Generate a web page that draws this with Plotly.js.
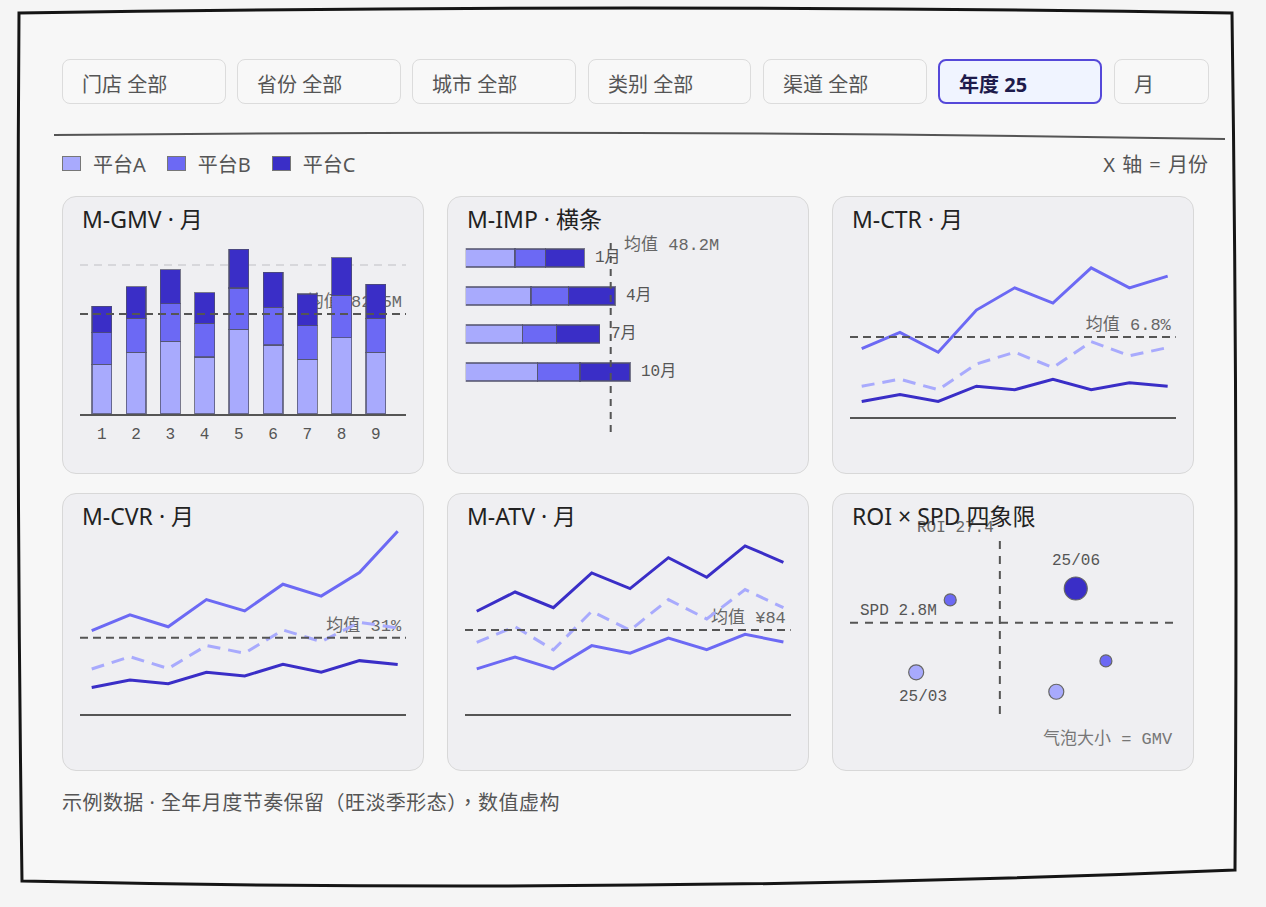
<!DOCTYPE html>
<html>
<head>
<meta charset="utf-8">
<script src="https://cdn.plot.ly/plotly-3.0.1.min.js"></script>
<style>
  body { margin: 0; width: 1266px; height: 907px; overflow: hidden; position: relative;
         background: #f5f5f5; font-family: "Noto Sans", "Noto Sans CJK SC", sans-serif; }
  #frame { position: absolute; left: 0; top: 0; z-index: 0; }
  .chip { position: absolute; top: 59px; height: 45px; box-sizing: border-box; border: 1.5px solid #dcdcdc;
          border-radius: 8px; background: #f8f8f8; color: #555; font-size: 20px;
          display: flex; align-items: center; padding-left: 19px; padding-top: 4px; z-index: 1; }
  .chip.on { border: 2px solid #5548d9; background: #f0f4ff; color: #1e1b4b; font-weight: 700; }
  .legend { position: absolute; top: 150px; left: 62px; height: 26px; display: flex; align-items: center;
            font-size: 20px; color: #555; z-index: 1; }
  .legend span.sw { display: inline-block; width: 17px; height: 13px; border: 1px solid #777; margin-right: 12px; }
  .legend span.lb { margin-right: 21px; }
  .axisnote { position: absolute; top: 150px; right: 58px; height: 26px; display: flex; align-items: center;
              font-size: 20px; word-spacing: 2px; color: #555; z-index: 1; }
  .panel { position: absolute; width: 362px; height: 278px; box-sizing: border-box; border: 1.5px solid #d8d8d8;
           border-radius: 14px; background: #efeff2; z-index: 1; }
  .ttl { position: absolute; font-size: 23px; line-height: 28px; color: #222; white-space: nowrap; z-index: 3; }
  .foot { position: absolute; left: 62px; top: 789px; font-size: 20px; line-height: 28px; letter-spacing: 0.45px;
          color: #555; z-index: 1; font-family: "Noto Sans", "Noto Sans CJK TC", sans-serif; }
  #chart { position: absolute; left: 0; top: 0; width: 1266px; height: 907px; z-index: 2; }
</style>
</head>
<body>

<svg id="frame" width="1266" height="907">
  <path d="M19,13 Q640,3 1232,13 Q1238,440 1235,870 Q640,895 22,881 Q16,450 19,13 Z"
        fill="#f7f7f7" stroke="#151515" stroke-width="3"/>
  <path d="M54,135 Q640,129 1225,139" fill="none" stroke="#555" stroke-width="2"/>
</svg>

<div class="chip" style="left:62px;width:164px">门店 全部</div>
<div class="chip" style="left:237px;width:164px">省份 全部</div>
<div class="chip" style="left:412px;width:164px">城市 全部</div>
<div class="chip" style="left:588px;width:163px">类别 全部</div>
<div class="chip" style="left:763px;width:164px">渠道 全部</div>
<div class="chip on" style="left:938px;width:164px">年度 25</div>
<div class="chip" style="left:1114px;width:95px">月</div>

<div class="legend" id="legend"></div>
<div class="axisnote">X 轴 = 月份</div>

<div class="panel" style="left:62px;top:196px"></div>
<div class="panel" style="left:447px;top:196px"></div>
<div class="panel" style="left:832px;top:196px"></div>
<div class="panel" style="left:62px;top:493px"></div>
<div class="panel" style="left:447px;top:493px"></div>
<div class="panel" style="left:832px;top:493px"></div>

<div class="ttl" style="left:82px;top:205px">M-GMV · 月</div>
<div class="ttl" style="left:467px;top:205px">M-IMP · 横条</div>
<div class="ttl" style="left:852px;top:205px">M-CTR · 月</div>
<div class="ttl" style="left:82px;top:502px">M-CVR · 月</div>
<div class="ttl" style="left:467px;top:502px">M-ATV · 月</div>
<div class="ttl" style="left:852px;top:502px">ROI × SPD 四象限</div>

<div class="foot">示例数据 · 全年月度节奏保留（旺淡季形态），数值虚构</div>

<div id="chart"></div>

<script>
// platforms
const platforms = ['平台A', '平台B', '平台C'];
const colA = '#a8aafd', colB = '#6c69f4', colC = '#3a2ec7';

// monthly GMV (stacked), M
const months = [1, 2, 3, 4, 5, 6, 7, 8, 9];
const gmvA = [41, 51, 60, 47, 70, 57, 45, 63, 51];
const gmvB = [26, 28, 31, 28, 34, 31, 28, 35, 28];
const gmvC = [22, 26, 28, 25, 32, 29, 26, 31, 28];
const gmvMean = 82.5;
const gmvRef = 123;

// impressions by quarter month, M
const impMonths = ['1月', '4月', '7月', '10月'];
const impA = [16.4, 21.7, 18.9, 23.9];
const impB = [10.2, 12.6, 11.4, 14.1];
const impC = [12.8, 15.3, 14.2, 16.6];
const impMean = 48.2;

// CTR %
const ctrA = [2.6, 3.2, 2.3, 4.5, 5.5, 4.2, 6.4, 5.2, 5.9];
const ctrB = [5.8, 7.2, 5.5, 9.1, 11.0, 9.7, 12.7, 11.0, 12.0];
const ctrC = [1.3, 1.9, 1.3, 2.6, 2.3, 3.2, 2.3, 2.9, 2.6];
const ctrMean = 6.8;

// CVR %
const cvrA = [18.3, 23.3, 18.5, 27.8, 24.7, 34.1, 29.4, 37.2, 34.9];
const cvrB = [33.8, 40.2, 35.4, 46.4, 41.8, 52.6, 47.8, 57.3, 74.0];
const cvrC = [10.8, 13.9, 12.4, 17.0, 15.5, 20.2, 17.0, 21.7, 20.1];
const cvrMean = 31;

// ATV ¥
const atvA = [71.7, 87.3, 64.1, 102.6, 83.7, 114.2, 95.0, 124.2, 106.2];
const atvB = [45.2, 57.1, 45.2, 68.4, 60.8, 76.0, 64.4, 79.7, 72.0];
const atvC = [102.6, 121.8, 106.2, 140.8, 125.2, 156.0, 136.5, 167.7, 151.4];
const atvMean = 84;

// ROI x SPD quadrant
const quadTags = ['', '25/06', '25/03', '', ''];
const quadRoi = [22.3, 35.2, 18.8, 38.3, 33.2];
const quadSpd = [3.20, 3.40, 1.93, 2.13, 1.59];
const quadGmv = [60, 115, 75, 60, 75];
const quadPlat = [1, 2, 0, 1, 0];
const roiMean = 27.4;
const spdMean = 2.8;

const colors = [colA, colB, colC];

// legend
const leg = document.getElementById('legend');
platforms.forEach(function(p, i) {
  leg.insertAdjacentHTML('beforeend',
    '<span class="sw" style="background:' + colors[i] + '"></span><span class="lb">' + p + '</span>');
});

const W = 1266, H = 907;
function dx(a, b) { return [a / W, b / W]; }
function dy(top, bottom) { return [1 - bottom / H, 1 - top / H]; }

const mono = 'Liberation Mono, DejaVu Sans Mono, Noto Sans CJK SC, monospace';
const edge = 'rgba(80,80,105,0.75)';
const dashRef = '8px,5px';

function bars(ys, col, name) {
  return {type: 'bar', x: months, y: ys, name: name, xaxis: 'x', yaxis: 'y', width: 0.58,
          marker: {color: col, line: {color: edge, width: 1.2}}, hoverinfo: 'skip'};
}
function hbars(xs, col, name) {
  return {type: 'bar', orientation: 'h', y: impMonths, x: xs, name: name, xaxis: 'x2', yaxis: 'y2', width: 0.47,
          marker: {color: col, line: {color: edge, width: 1.2}}, hoverinfo: 'skip'};
}
function line(ys, col, ax, dashed) {
  return {type: 'scatter', mode: 'lines', x: months, y: ys, xaxis: 'x' + ax, yaxis: 'y' + ax,
          line: {color: col, width: 3, dash: dashed ? '13px,8px' : 'solid'}, hoverinfo: 'skip'};
}

const data = [
  bars(gmvA, colA, platforms[0]), bars(gmvB, colB, platforms[1]), bars(gmvC, colC, platforms[2]),
  hbars(impA, colA, platforms[0]), hbars(impB, colB, platforms[1]), hbars(impC, colC, platforms[2]),
  line(ctrA, colA, 3, true), line(ctrC, colC, 3, false), line(ctrB, colB, 3, false),
  line(cvrA, colA, 4, true), line(cvrC, colC, 4, false), line(cvrB, colB, 4, false),
  line(atvA, colA, 5, true), line(atvB, colB, 5, false), line(atvC, colC, 5, false),
  {type: 'scatter', mode: 'markers', x: quadRoi, y: quadSpd, xaxis: 'x6', yaxis: 'y6',
   marker: {size: quadGmv, sizemode: 'diameter', sizeref: 5, opacity: 1,
            color: quadPlat.map(function(p) { return colors[p]; }),
            line: {color: '#666', width: 1.2}}, hoverinfo: 'skip'}
];

function meanLine(ax, val) {
  return {type: 'line', xref: 'x' + ax + ' domain', x0: 0, x1: 1, yref: 'y' + ax, y0: val, y1: val,
          line: {color: '#555', width: 2, dash: dashRef}, layer: 'above'};
}
// label drawn under the traces, its right end pulled in by a few px
function meanLabel(ax, val, txt, inset) {
  return {type: 'line', xref: 'x' + ax + ' domain', x0: 0, x1: 1 - inset, yref: 'y' + ax, y0: val, y1: val,
          line: {color: 'rgba(0,0,0,0)', width: 1}, layer: 'below',
          label: {text: txt, textposition: 'end', xanchor: 'right', yanchor: 'bottom', padding: 4,
                  font: {family: mono, size: 17, color: '#666'}}};
}

const shapes = [
  {type: 'line', xref: 'x domain', x0: 0, x1: 1, yref: 'y', y0: gmvRef, y1: gmvRef,
   line: {color: '#d0d0d4', width: 1.5, dash: '8px,6px'}, layer: 'below'},
  meanLabel('', gmvMean, '均值 ' + gmvMean + 'M', 0.012), meanLine('', gmvMean),
  {type: 'line', xref: 'x2', x0: impMean, x1: impMean, yref: 'y2 domain', y0: 0, y1: 1,
   line: {color: '#555', width: 2, dash: '7px,6px'}},
  meanLabel(3, ctrMean, '均值 ' + ctrMean + '%', 0.015), meanLine(3, ctrMean),
  meanLabel(4, cvrMean, '均值 ' + cvrMean + '%', 0.015), meanLine(4, cvrMean),
  meanLabel(5, atvMean, '均值 ¥' + atvMean, 0.015), meanLine(5, atvMean),
  {type: 'line', xref: 'x6', x0: roiMean, x1: roiMean, yref: 'y6 domain', y0: 0, y1: 1,
   line: {color: '#555', width: 2, dash: '8px,7px'}},
  {type: 'line', xref: 'x6 domain', x0: 0, x1: 1, yref: 'y6', y0: spdMean, y1: spdMean,
   line: {color: '#555', width: 2, dash: '8px,7px'}}
];

const txt = {family: mono, size: 16, color: '#555'};
const annotations = [];
impMonths.forEach(function(m, i) {
  annotations.push({xref: 'x2', yref: 'y2', x: impA[i] + impB[i] + impC[i], y: m, text: m,
                    showarrow: false, xanchor: 'left', xshift: 9, font: txt});
});
annotations.push({xref: 'x2', yref: 'y2 domain', x: impMean, y: 1, text: '均值 ' + impMean + 'M',
                  showarrow: false, xanchor: 'left', xshift: 11, yanchor: 'middle', yshift: -2,
                  font: {family: mono, size: 17, color: '#666'}});
quadTags.forEach(function(t, i) {
  if (!t) return;
  const above = quadSpd[i] > spdMean;
  annotations.push({xref: 'x6', yref: 'y6', x: quadRoi[i], y: quadSpd[i], text: t, showarrow: false,
                    yanchor: 'middle', yshift: above ? 27 : -25, xshift: above ? 0 : 7, font: txt});
});
annotations.push({xref: 'x6', yref: 'y6 domain', x: roiMean, y: 1, text: 'ROI ' + roiMean, showarrow: false,
                  xanchor: 'right', xshift: -4, yanchor: 'middle', yshift: 12, font: {family: mono, size: 16, color: '#666'}});
annotations.push({xref: 'x6 domain', yref: 'y6', x: 0, y: spdMean, text: 'SPD ' + spdMean + 'M', showarrow: false,
                  xanchor: 'left', xshift: 8, yanchor: 'middle', yshift: 12, font: txt});
annotations.push({xref: 'x6 domain', yref: 'y6 domain', x: 1, y: 0, text: '气泡大小 = GMV', showarrow: false,
                  xanchor: 'right', xshift: 0, yanchor: 'middle', yshift: -25, font: {family: mono, size: 17, color: '#777'}});

const baseX = {showline: true, linecolor: '#555', linewidth: 2, ticks: '', showgrid: false, zeroline: false,
               showticklabels: false, fixedrange: true};
const hidden = {visible: false, showline: false, fixedrange: true};

const layout = {
  width: W, height: H, margin: {l: 0, r: 0, t: 0, b: 0},
  paper_bgcolor: 'rgba(0,0,0,0)', plot_bgcolor: 'rgba(0,0,0,0)',
  showlegend: false, barmode: 'stack',
  font: {family: mono, size: 16, color: '#555'},
  xaxis: Object.assign({}, baseX, {anchor: 'y', domain: dx(80, 406), range: [0.36, 9.88], tickvals: months,
          ticktext: months.map(String), showticklabels: true, ticklabelstandoff: 4,
          tickfont: {family: mono, size: 16, color: '#555'}}),
  yaxis: Object.assign({}, hidden, {anchor: 'x', domain: dy(235, 414), range: [0, 147.7]}),
  xaxis2: Object.assign({}, hidden, {anchor: 'y2', domain: dx(465.7, 790), range: [0, 107.8]}),
  yaxis2: Object.assign({}, hidden, {anchor: 'x2', domain: dy(243, 432), type: 'category', range: [4.579, -0.395]}),
  xaxis3: Object.assign({}, baseX, {anchor: 'y3', domain: dx(850, 1175.7), range: [0.694, 9.21]}),
  yaxis3: Object.assign({}, hidden, {anchor: 'x3', domain: dy(240, 416.7), range: [0, 15.08]}),
  xaxis4: Object.assign({}, baseX, {anchor: 'y4', domain: dx(80, 406), range: [0.694, 9.217]}),
  yaxis4: Object.assign({}, hidden, {anchor: 'x4', domain: dy(520, 714.3), range: [0, 78.57]}),
  xaxis5: Object.assign({}, baseX, {anchor: 'y5', domain: dx(465, 790.7), range: [0.694, 9.19]}),
  yaxis5: Object.assign({}, hidden, {anchor: 'x5', domain: dy(520, 714.3), range: [0, 193.5]}),
  xaxis6: Object.assign({}, hidden, {anchor: 'y6', domain: dx(850, 1175), range: [12, 45.4]}),
  yaxis6: Object.assign({}, hidden, {anchor: 'x6', domain: dy(540, 714), range: [1.2, 4.25]}),
  shapes: shapes,
  annotations: annotations
};

Plotly.newPlot('chart', data, layout, {displayModeBar: false, staticPlot: true});
</script>
</body>
</html>
